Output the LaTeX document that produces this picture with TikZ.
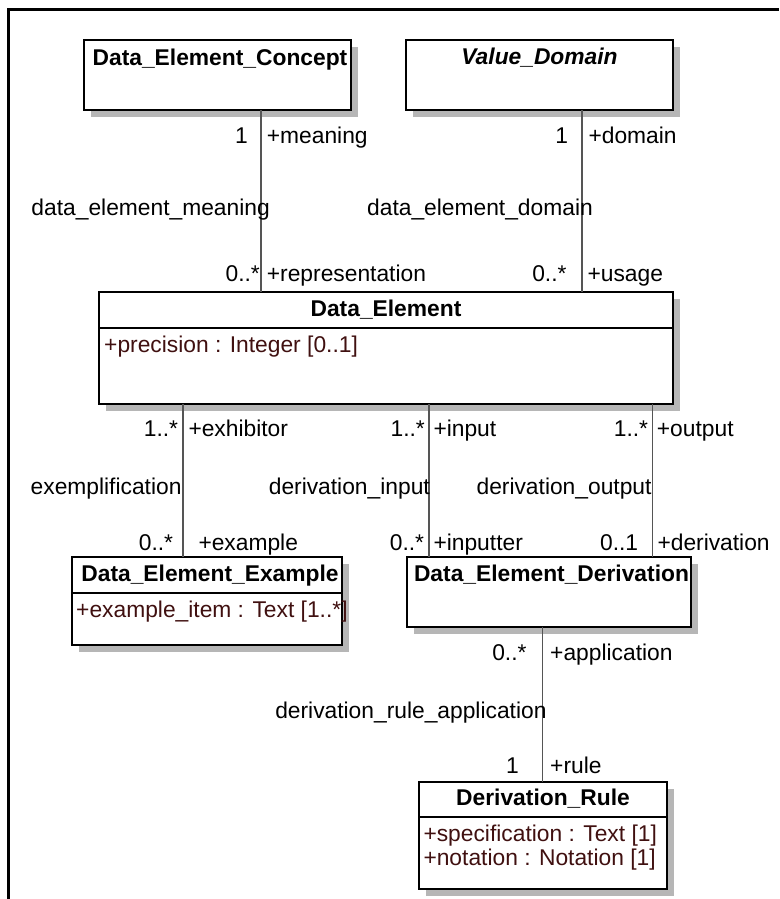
\documentclass[tikz,border=0pt]{standalone}
\usepackage{fontspec}
\setmainfont{Liberation Sans}
\usetikzlibrary{shadows}

\definecolor{attrred}{RGB}{64,16,16}
\definecolor{linegray}{RGB}{85,85,85}
\definecolor{shadowgray}{RGB}{182,182,182}

\newcommand{\umlsize}{\fontsize{22.8}{27}\selectfont}

\tikzset{
  umlclass/.style={draw, line width=2pt, fill=white, anchor=north west,
    inner sep=0pt, outer sep=0pt,
    drop shadow={shadow xshift=7pt, shadow yshift=-7pt, fill=shadowgray, opacity=1}},
  divider/.style={line width=2pt},
  classname/.style={font=\umlsize\bfseries, anchor=base, inner sep=0pt},
  attr/.style={font=\umlsize, text=attrred, anchor=base west, inner sep=0pt},
  assoc/.style={draw=linegray, line width=1.3pt},
  mult/.style={font=\umlsize, anchor=base east, inner sep=0pt},
  role/.style={font=\umlsize, anchor=base west, inner sep=0pt},
  assocname/.style={font=\umlsize, anchor=base east, inner sep=0pt}
}

\begin{document}
\begin{tikzpicture}[x=1pt, y=-1pt]
    \useasboundingbox (0,0) rectangle (779,899);

    % Frame
    \draw[line width=3pt] (8.5,899) -- (8.5,9.5) -- (779,9.5);

    % Classes
    \node[umlclass, minimum width=267pt, minimum height=70pt] (dec) at (84,40) {};
    \node[classname] (decname) at (220,65.5) {Data\_Element\_Concept};

    \node[umlclass, minimum width=267pt, minimum height=70pt] (vd) at (406,40) {};
    \node[classname, font=\umlsize\bfseries\itshape] (vdname) at (539.5,65) {Value\_Domain};

    \node[umlclass, minimum width=574pt, minimum height=112pt] (de) at (99,292) {};
    \draw[divider] (de.west |- 0,327.7) -- (de.east |- 0,327.7);
    \node[classname] (dename) at (386,316.7) {Data\_Element};
    \node[attr] (deprec) at (104,352.7) {+precision : Integer [0..1]};

    \node[umlclass, minimum width=270pt, minimum height=88pt] (dee) at (71.7,557.3) {};
    \draw[divider] (dee.west |- 0,592.7) -- (dee.east |- 0,592.7);
    \node[classname] (deename) at (210,581.7) {Data\_Element\_Example};
    \node[attr] (deeitem) at (76,617.3) {+example\_item : Text [1..*]};

    \node[umlclass, minimum width=284pt, minimum height=69.4pt] (ded) at (406.7,557.3) {};
    \node[classname] (dedname) at (551.5,581.7) {Data\_Element\_Derivation};

    \node[umlclass, minimum width=248.3pt, minimum height=107pt] (dr) at (419,781.7) {};
    \draw[divider] (dr.west |- 0,817.3) -- (dr.east |- 0,817.3);
    \node[classname] (drname) at (543,805) {Derivation\_Rule};
    \node[attr] (drspec) at (423.3,841.7) {+specification : Text [1]};
    \node[attr] (drnot) at (423.3,865.7) {+notation : Notation [1]};

    % Associations
    \draw[assoc] (261,0 |- dec.south) -- (261,0 |- de.north);
    \draw[assoc] (582,0 |- vd.south) -- (582,0 |- de.north);
    \draw[assoc] (183,0 |- de.south) -- (183,0 |- dee.north);
    \draw[assoc] (429,0 |- de.south) -- (429,0 |- ded.north);
    \draw[assoc] (652.7,0 |- de.south) -- (652.7,0 |- ded.north);
    \draw[assoc] (542.7,0 |- ded.south) -- (542.7,0 |- dr.north);

    % data_element_meaning
    \node[mult] (m1a) at (248,143.3) {1};
    \node[role] (r1a) at (266.7,143.3) {+meaning};
    \node[assocname] (a1) at (270,215) {data\_element\_meaning};
    \node[mult] (m1b) at (260,281.7) {0..*};
    \node[role] (r1b) at (266.7,281.7) {+representation};

    % data_element_domain
    \node[mult] (m2a) at (568.3,143.3) {1};
    \node[role] (r2a) at (588.3,143.3) {+domain};
    \node[assocname] (a2) at (593,215) {data\_element\_domain};
    \node[mult] (m2b) at (566.7,281.7) {0..*};
    \node[role] (r2b) at (587.3,281.7) {+usage};

    % exemplification
    \node[mult] (m3a) at (178.3,436.7) {1..*};
    \node[role] (r3a) at (188.3,436.7) {+exhibitor};
    \node[assocname] (a3) at (181.7,494.3) {exemplification};
    \node[mult] (m3b) at (173.3,550.7) {0..*};
    \node[role] (r3b) at (198.3,550.7) {+example};

    % derivation_input
    \node[mult] (m4a) at (425,436.7) {1..*};
    \node[role] (r4a) at (433.3,436.7) {+input};
    \node[assocname] (a4) at (430,494.3) {derivation\_input};
    \node[mult] (m4b) at (424.3,550.7) {0..*};
    \node[role] (r4b) at (433.3,550.7) {+inputter};

    % derivation_output
    \node[mult] (m5a) at (648.3,436.7) {1..*};
    \node[role] (r5a) at (656.7,436.7) {+output};
    \node[assocname] (a5) at (651.7,494.3) {derivation\_output};
    \node[mult] (m5b) at (638.3,550.7) {0..1};
    \node[role] (r5b) at (657.3,550.7) {+derivation};

    % derivation_rule_application
    \node[mult] (m6a) at (526.7,660) {0..*};
    \node[role] (r6a) at (550,660) {+application};
    \node[assocname] (a6) at (546.7,718.3) {derivation\_rule\_application};
    \node[mult] (m6b) at (519,773.3) {1};
    \node[role] (r6b) at (550,773.3) {+rule};

\end{tikzpicture}
\end{document}
